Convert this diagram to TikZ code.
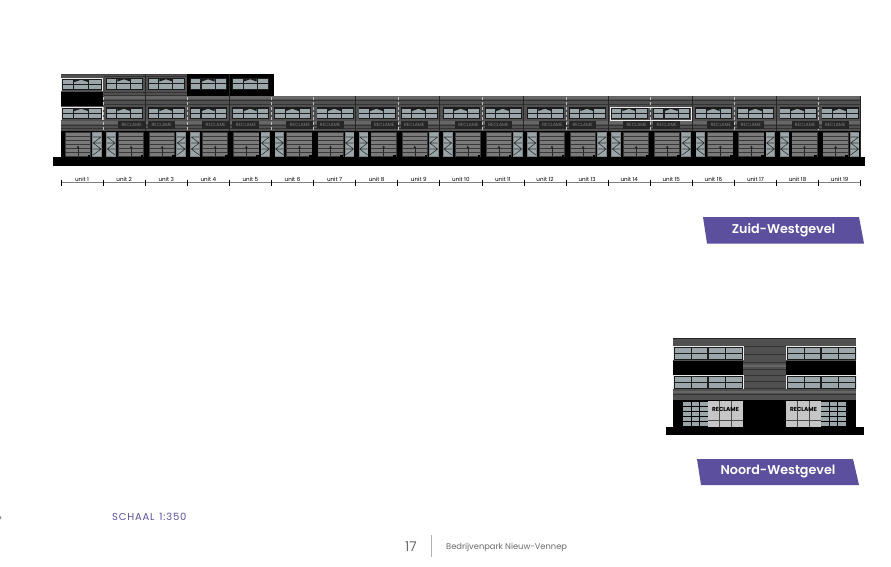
\documentclass[tikz,border=0pt]{standalone}
\usepackage{fontspec}
\setmainfont{Poppins}
\newfontfamily\badgefont{Poppins SemiBold}
\definecolor{brand}{HTML}{5B4F9E}
\definecolor{wallc}{HTML}{505050}
\definecolor{bandc}{HTML}{666666}
\definecolor{pane}{HTML}{9AA6A9}
\definecolor{pale}{HTML}{C6C6C6}
\definecolor{framec}{HTML}{1C1C1C}
\definecolor{txtgrey}{HTML}{6A6A6A}
\tikzset{
  badge/.style={fill=brand,draw=none},
  badgetext/.style={text=white,font=\fontsize{12.7}{14}\badgefont,inner sep=0pt,anchor=center},
  unitlabel/.style={text=black,font=\fontsize{5.6}{6}\selectfont,inner sep=0pt,anchor=center},
  dimline/.style={draw=black!50,line width=.9pt},
  tick/.style={draw=black,line width=.7pt},
  darkjoint/.style={draw=black!85,line width=1pt},
  softjoint/.style={draw=black!25,line width=.4pt,densely dashed},
  whiteframe/.style={draw=white!92!black,line width=.8pt},
  stripe/.style={draw=black!80,line width=.75pt},
  reclame/.style={text=black,font=\fontsize{5.8}{6}\selectfont\bfseries,inner sep=0pt,anchor=center},
  signtext/.style={text=black!50,font=\fontsize{4.6}{5}\selectfont,inner sep=0pt,anchor=center},
}
% window of the long facade: [#1 x-scale] #2 x, #3 y, 37 wide, 12 high
\newcommand{\longwin}[3][1]{%
  \begin{scope}[shift={(#2,#3)},xscale=#1]
    \fill[framec] (0,0) rectangle (37,12);
    \foreach \xa/\xb in {.8/10.2,25.3/36}{
      \fill[pane] (\xa,1.2) rectangle (\xb,5.4);
      \fill[pane] (\xa,6.4) rectangle (\xb,11);
    }
    \fill[pane] (11.3,1.2) rectangle (24.3,5.4);
    \fill[pane] (11.3,6.4) rectangle (24.3,11);
    \fill[framec] (17.8,1.2) -- (24.3,1.2) -- (24.3,3.6) -- cycle;
    \fill[framec] (17.8,1.2) -- (11.3,1.2) -- (11.3,3.6) -- cycle;
  \end{scope}}
% garage door: #1 x, 26 wide
\newcommand{\garage}[1]{%
  \begin{scope}[shift={(#1,132)}]
    \fill[black!78] (0,0) rectangle (26,25);
    \foreach \yy in {1,5,9,13,17,21}{
      \fill[black!52] (.8,\yy) rectangle (25.2,\yy+2.8);
    }
    \draw[black!85,line width=.4pt] (13,23.5) -- (13,15);
    \fill[black!85] (13,13.5) -- (14.2,15.8) -- (11.8,15.8) -- cycle;
    \fill[black] (22.8,22.8) rectangle (25.4,25);
  \end{scope}}
% glazed strip: #1 x of its centre, #2 mirror factor (1 or -1), 8 wide
\newcommand{\gstrip}[2]{%
  \begin{scope}[shift={(#1,132)},xscale=#2]
    \fill[black!50] (-4.8,0) rectangle (4.8,25);
    \fill[pane] (-4,1) rectangle (4,24);
    \draw[black!80,line width=.6pt] (-4,5) -- (4,5) (4,5) -- (-4,11) -- (4,17) -- (-4,23)
      (-4,11) -- (4,11) (-4,17) -- (4,17);
  \end{scope}}
% window of the short facade: #1 x, #2 y, #3 x of the arched pane
\newcommand{\shortwin}[3]{%
  \begin{scope}[shift={(#1,#2)}]
    \fill[framec] (0,0) rectangle (70,14);
    \foreach \xx in {2,18.5,36,53}{
      \fill[pane] (\xx,2) rectangle (\xx+15.5,7);
      \fill[pane] (\xx,8) rectangle (\xx+15.5,12.7);
    }
    \fill[framec] (#3,2) rectangle (#3+15.5,7);
    \draw[pale,line width=.55pt] (#3,6.6) -- (#3+4,3.6) -- (#3+11.5,3.6) -- (#3+15.5,6.6);
    \draw[whiteframe] (70,14) -- (70,0) -- (0,0) -- (0,14);
  \end{scope}}
% grid of small panes at the short facade
\newcommand{\panegrid}[1]{%
  \begin{scope}[shift={(#1,401)}]
    \foreach \cc in {0,8.5,17}{
      \foreach \rr in {1,6,11,16,21}{
        \fill[pane] (\cc,\rr) rectangle (\cc+7.5,\rr+4);
      }
    }
  \end{scope}}
% pale shop front at the short facade
\newcommand{\paleshop}[1]{%
  \begin{scope}[shift={(#1,401)}]
    \fill[pale] (0,0) rectangle (35,26);
    \draw[black!70,line width=.7pt] (11.7,0) -- (11.7,26) (23.4,0) -- (23.4,26) (0,19) -- (35,19);
    \node[reclame] at (17.5,8.3) {RECLAME};
  \end{scope}}
\begin{document}
\begin{tikzpicture}[x=1pt,y=-1pt,line cap=butt]
\useasboundingbox (0,0) rectangle (891,567);
\fill[white] (0,0) rectangle (891,567);
\def\ux{42.09}

% ---- long facade ----
\fill[wallc] (61,96) rectangle (860,131);
\fill[wallc] (61,74) rectangle (187,96);
\fill[black] (187,74) rectangle (274,96);
\fill[black] (61,131) rectangle (860,157);
\draw[black!75,line width=.9pt] (61,74) -- (187,74) (61,96) -- (860,96);
\foreach \yy in {100,104,121,125,128}{
  \draw[stripe] (61,\yy) -- (860,\yy);
}
\fill[bandc] (104,96.5) rectangle (860,99.5);
\fill[bandc] (61,121.5) rectangle (860,124.5);
\fill[black] (61,92) rectangle (103,106);
\foreach \yy in {76,92,95}{
  \draw[stripe] (104,\yy) -- (187,\yy);
}
% joints
\foreach \k in {2,4}{
  \draw[darkjoint] ({61+\k*\ux},74.5) -- ({61+\k*\ux},131);
}
\foreach \k in {7,9,11,13,15,17}{
  \draw[darkjoint] ({61+\k*\ux},96) -- ({61+\k*\ux},131);
}
\foreach \k in {1,3,5,6,8,10,12,14,16,18}{
  \draw[softjoint] ({61+\k*\ux},97) -- ({61+\k*\ux},131);
}
\draw[darkjoint] (860,96) -- (860,157);

% units
\foreach \k in {0,...,18}{
  \pgfmathsetmacro{\bx}{61+\k*\ux}
  \pgfmathtruncatemacro{\odd}{mod(\k,2)}
  \ifnum\k>0 \longwin{\bx+3}{107.5}\fi
  \ifnum\odd=0
    \garage{\bx+4}
    \gstrip{\bx+36}{1}
    \ifnum\k>0
      \fill[black!85] (\bx+3,121) rectangle (\bx+30,129.5);
      \node[signtext] at (\bx+16.5,125.3) {RECLAME};
    \fi
  \else
    \gstrip{\bx+8}{-1}
    \garage{\bx+15}
    \fill[black!85] (\bx+15,121) rectangle (\bx+42,129.5);
    \node[signtext] at (\bx+28.5,125.3) {RECLAME};
  \fi
}
\foreach \k in {1,...,4}{
  \pgfmathsetmacro{\bx}{61+\k*\ux}
  \longwin{\bx+3}{78}
}
% unit 1 and units 14-15 in white frames
\longwin[1.08]{62}{78.5}
\longwin[1.08]{62}{107.5}
\draw[whiteframe] (61,91) -- (61,78) -- (102,78) -- (102,91);
\draw[whiteframe] (61,120) -- (61,107) -- (102,107) -- (102,120);
\draw[whiteframe] (610,120) rectangle (691,107);
% plinth
\fill[black] (53,157) rectangle (865,166);

% ---- dimension line ----
\coordinate (dimA) at (61,182.3);
\coordinate (dimB) at (861,182.3);
\draw[dimline] (dimA) -- (dimB);
\foreach \k in {0,...,19}{
  \draw[tick] ({61+\k*\ux},179.6) -- ({61+\k*\ux},185.6);
}
\foreach \k [evaluate=\k as \n using int(\k+1)] in {0,...,18}{
  \node[unitlabel] (u\n) at ({61+(\k+.5)*\ux},179.6) {unit \n};
}

% ---- short facade ----
\fill[wallc] (673,337.5) rectangle (856,401);
\draw[black!85,line width=1pt] (673,338) -- (856,338);
\foreach \yy in {346,354,362,369,375,381,388,394}{
  \draw[stripe] (673,\yy) -- (856,\yy);
}
\fill[bandc] (743,364.5) rectangle (786,367);
\fill[bandc] (673,391) rectangle (856,393);
\fill[black] (673,361) rectangle (743,375);
\fill[black] (786,361) rectangle (856,375);
\shortwin{673}{346}{708.5}
\shortwin{673}{375}{708.5}
\shortwin{786}{346}{804.5}
\shortwin{786}{375}{804.5}
\fill[black] (673,400) rectangle (856,427);
\panegrid{683}
\paleshop{708}
\paleshop{786}
\panegrid{821}
\fill[black] (666,427) rectangle (864,435);

% ---- badges ----
\fill[badge] (703,217) -- (859,217) -- (864,243.5) -- (707,243.5) -- cycle;
\node[badgetext] (zw) at (783.5,230) {Zuid-Westgevel};
\fill[badge] (697,459) -- (853,459) -- (859,485) -- (701,485) -- cycle;
\node[badgetext] (nw) at (778,471.5) {Noord-Westgevel};

% ---- footer ----
\fill[black!45] (0,515.5) -- (1,517) -- (1,519) -- (0,519) -- cycle;
\node[text=brand,font=\fontsize{10}{10}\selectfont\addfontfeatures{LetterSpace=8},inner sep=0pt,anchor=west] (sch) at (112,517.3) {SCHAAL\hspace{1.5pt} 1:350};
\node[text=txtgrey,font=\fontsize{13.5}{14}\selectfont,inner sep=0pt,anchor=center] (pg) at (411,547) {17};
\coordinate (sepA) at (431.5,535);
\coordinate (sepB) at (431.5,556.5);
\draw[black!30,line width=.7pt] (sepA) -- (sepB);
\node[text=txtgrey,font=\fontsize{8.3}{9}\selectfont,inner sep=0pt,anchor=west] (bp) at (446,547.3) {Bedrijvenpark Nieuw-Vennep};
\end{tikzpicture}
\end{document}
